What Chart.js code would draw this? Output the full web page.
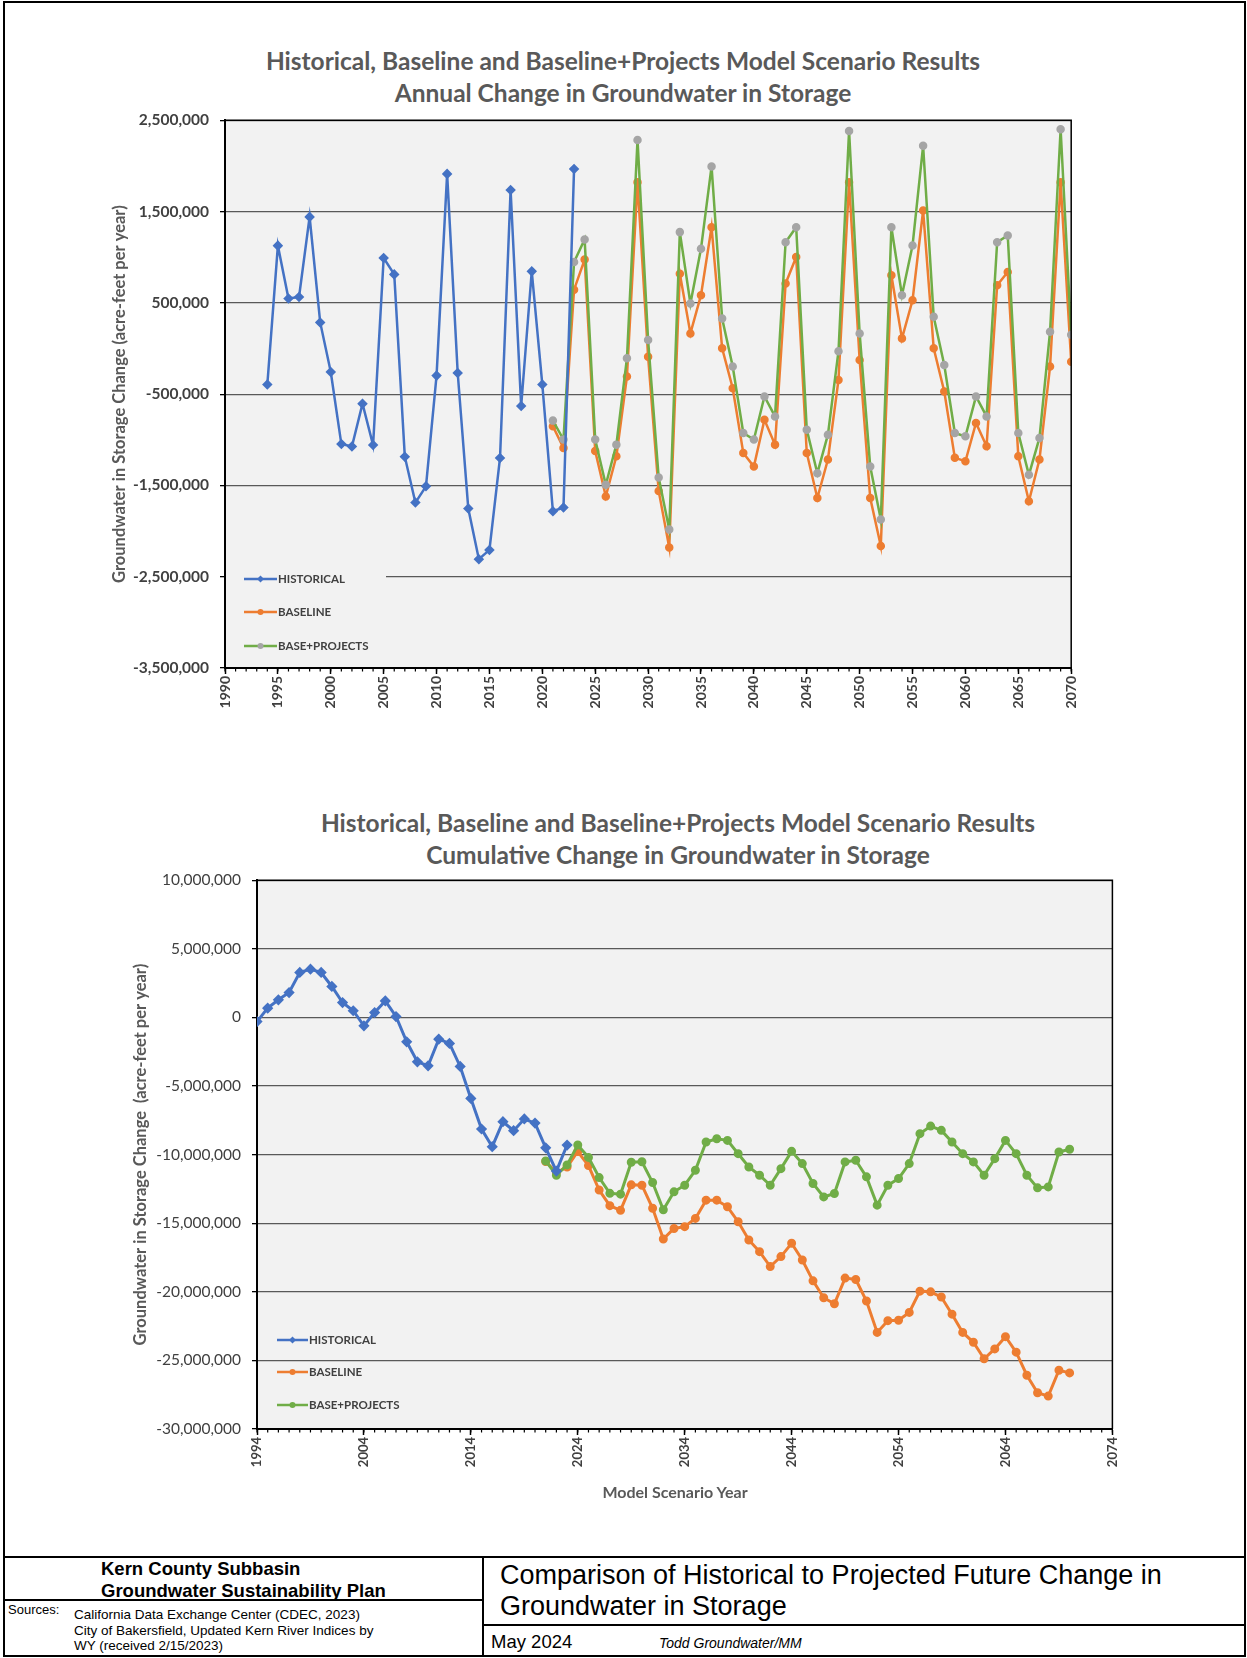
<!DOCTYPE html>
<html>
<head>
<meta charset="utf-8">
<script src="https://cdn.jsdelivr.net/npm/chart.js@4.4.1/dist/chart.umd.min.js"></script>
<style>
  body { margin: 0; background: #fff; width: 1247px; height: 1658px; position: relative; overflow: hidden; font-family: Lato, sans-serif; }
  .abs { position: absolute; }
  .ctitle { position: absolute; font-family: Lato, sans-serif; font-weight: bold; font-size: 24.5px; color: #595959; white-space: nowrap; transform: translate(-50%, -50%); }
  .box { position: absolute; }
  .blk { position: absolute; font-family: "Liberation Sans", Arial, sans-serif; color: #000; white-space: nowrap; }
</style>
</head>
<body>
<div class="box" style="left:3px;top:1px;width:1239px;height:1652px;border:2px solid #000;"></div>

<div class="ctitle" style="left:623px;top:60px;">Historical, Baseline and Baseline+Projects Model Scenario Results</div>
<div class="ctitle" style="left:623px;top:92px;">Annual Change in Groundwater in Storage</div>
<div class="abs" style="left:100px;top:100px;width:990px;height:618px;"><canvas id="annual"></canvas></div>

<div class="ctitle" style="left:678px;top:822px;">Historical, Baseline and Baseline+Projects Model Scenario Results</div>
<div class="ctitle" style="left:678px;top:854px;">Cumulative Change in Groundwater in Storage</div>
<div class="abs" style="left:120px;top:860px;width:1010px;height:644px;"><canvas id="cumulative"></canvas></div>
<div class="ctitle" style="left:675px;top:1491px;font-size:16px;">Model Scenario Year</div>

<!-- title block -->
<div class="box" style="left:3px;top:1556px;width:1241px;height:0;border-top:2px solid #000;"></div>
<div class="box" style="left:482px;top:1556px;width:0;height:100px;border-left:2px solid #000;"></div>
<div class="box" style="left:3px;top:1599px;width:480px;height:0;border-top:2px solid #000;"></div>
<div class="box" style="left:483px;top:1624px;width:761px;height:0;border-top:2px solid #000;"></div>

<div class="blk" style="left:101px;top:1558px;font-size:18.5px;font-weight:bold;">Kern County Subbasin</div>
<div class="blk" style="left:101px;top:1580px;font-size:18.5px;font-weight:bold;">Groundwater Sustainability Plan</div>
<div class="blk" style="left:8px;top:1602px;font-size:13px;">Sources:</div>
<div class="blk" style="left:74px;top:1607px;font-size:13.5px;line-height:15.5px;">California Data Exchange Center (CDEC, 2023)<br>City of Bakersfield, Updated Kern River Indices by<br>WY (received 2/15/2023)</div>
<div class="blk" style="left:500px;top:1560px;font-size:27px;line-height:31px;">Comparison of Historical to Projected Future Change in<br>Groundwater in Storage</div>
<div class="blk" style="left:491px;top:1631px;font-size:18.5px;">May 2024</div>
<div class="blk" style="left:659px;top:1635px;font-size:14px;font-style:italic;">Todd Groundwater/MM</div>

<script>
// ---- data (acre-feet) ----
const histYears = [1994, 1995, 1996, 1997, 1998, 1999, 2000, 2001, 2002, 2003,
  2004, 2005, 2006, 2007, 2008, 2009, 2010, 2011, 2012, 2013,
  2014, 2015, 2016, 2017, 2018, 2019, 2020, 2021, 2022, 2023];
const projYears = [2021, 2022, 2023, 2024, 2025, 2026, 2027, 2028, 2029, 2030,
  2031, 2032, 2033, 2034, 2035, 2036, 2037, 2038, 2039, 2040,
  2041, 2042, 2043, 2044, 2045, 2046, 2047, 2048, 2049, 2050,
  2051, 2052, 2053, 2054, 2055, 2056, 2057, 2058, 2059, 2060,
  2061, 2062, 2063, 2064, 2065, 2066, 2067, 2068, 2069, 2070];

const histAnnual = [-395000, 1127000, 547000, 565000, 1442000, 286000, -257000, -1047000, -1073000, -605000,
  -1058000, 992000, 812000, -1185000, -1688000, -1510000, -297000, 1913000, -268000, -1753000,
  -2308000, -2207000, -1199000, 1736000, -630000, 845000, -395000, -1783000, -1742000, 1967000];
const baseAnnual = [-852000, -1089000, 645000, 975000, -1124000, -1620000, -1180000, -307000, 1820000, -89000,
  -1560000, -2181000, 820000, 165000, 584000, 1329000, 2000, -435000, -1144000, -1293000,
  -780000, -1053000, 711000, 1002000, -1144000, -1638000, -1216000, -344000, 1820000, -125000,
  -1638000, -2163000, 802000, 111000, 529000, 1511000, 2000, -471000, -1198000, -1235000,
  -816000, -1071000, 693000, 838000, -1180000, -1674000, -1216000, -198000, 1820000, -146000];
const projAnnual = [-790000, -997000, 947000, 1195000, -997000, -1493000, -1053000, -107000, 2285000, 93000,
  -1413000, -1982000, 1275000, 493000, 1093000, 1995000, 329000, -198000, -925000, -998000,
  -525000, -744000, 1165000, 1329000, -889000, -1366000, -944000, -30000, 2384000, 165000,
  -1293000, -1873000, 1329000, 584000, 1129000, 2220000, 347000, -180000, -925000, -962000,
  -525000, -744000, 1165000, 1238000, -925000, -1384000, -980000, 184000, 2402000, 150000];

const histCum = [-300000, 680000, 1290000, 1820000, 3280000, 3520000, 3280000, 2260000, 1090000, 490000,
  -610000, 360000, 1210000, 70000, -1770000, -3230000, -3520000, -1580000, -1890000, -3570000,
  -5900000, -8130000, -9420000, -7600000, -8250000, -7400000, -7700000, -9500000, -11200000, -9300000];
const baseCum = [-10500000, -11300000, -10900000, -9770000, -10800000, -12580000, -13720000, -14060000, -12200000, -12230000,
  -13910000, -16150000, -15380000, -15250000, -14650000, -13320000, -13320000, -13800000, -14890000, -16220000,
  -17070000, -18160000, -17430000, -16460000, -17680000, -19200000, -20430000, -20870000, -19000000, -19100000,
  -20670000, -22960000, -22100000, -22070000, -21500000, -19950000, -20000000, -20380000, -21630000, -22960000,
  -23680000, -24880000, -24160000, -23270000, -24400000, -26080000, -27360000, -27600000, -25720000, -25910000];
const projCum = [-10460000, -11500000, -10750000, -9300000, -10200000, -11670000, -12820000, -12880000, -10550000, -10520000,
  -12030000, -14020000, -12710000, -12230000, -11140000, -9080000, -8840000, -8960000, -9930000, -10900000,
  -11500000, -12230000, -11020000, -9760000, -10650000, -12100000, -13080000, -12830000, -10530000, -10410000,
  -11620000, -13680000, -12230000, -11740000, -10650000, -8470000, -7920000, -8230000, -9080000, -9930000,
  -10530000, -11500000, -10290000, -8960000, -9930000, -11500000, -12420000, -12350000, -9810000, -9610000];

const seriesNames = ['HISTORICAL', 'BASELINE', 'BASE+PROJECTS'];
const annualTicks = { min: -3500000, max: 2500000, step: 1000000 };
const cumTicks = { min: -30000000, max: 10000000, step: 5000000 };
const annualYears = { min: 1990, max: 2070, step: 5 };
const cumYears = { min: 1994, max: 2074, step: 10 };

const BLUE = '#4472C4', ORANGE = '#ED7D31', GREEN = '#70AD47', GREY = '#A5A5A5';
Chart.defaults.font.family = 'Lato, sans-serif';
Chart.defaults.animation = false;

function pairs(xs, ys) {
  return xs.map((x, i) => ({ x: x, y: ys[i] }));
}

// plot background + top/right frame + minor year ticks
const plotFrame = {
  id: 'plotFrame',
  beforeDraw(chart) {
    const a = chart.chartArea, ctx = chart.ctx;
    ctx.save();
    ctx.fillStyle = '#f2f2f2';
    ctx.fillRect(a.left, a.top, a.right - a.left, a.bottom - a.top);
    ctx.restore();
  },
  afterDraw(chart) {
    const a = chart.chartArea, ctx = chart.ctx;
    ctx.save();
    ctx.strokeStyle = '#000';
    ctx.lineWidth = 1.5;
    ctx.beginPath();
    ctx.moveTo(a.left, a.top);
    ctx.lineTo(a.right, a.top);
    ctx.lineTo(a.right, a.bottom);
    ctx.stroke();
    const xs = chart.scales.x;
    ctx.lineWidth = 1.2;
    for (let yr = Math.ceil(xs.min); yr <= xs.max; yr++) {
      const px = xs.getPixelForValue(yr);
      ctx.beginPath();
      ctx.moveTo(px, a.bottom);
      ctx.lineTo(px, a.bottom + 3.5);
      ctx.stroke();
    }
    ctx.restore();
  }
};

// legend drawn inside the plot, lower left
function insideLegend(opts) {
  return {
    id: 'insideLegend',
    afterDatasetsDraw(chart) {
      const a = chart.chartArea, ctx = chart.ctx;
      ctx.save();
      if (opts.cover) {
        ctx.fillStyle = '#f2f2f2';
        ctx.fillRect(a.left + 1, a.bottom - opts.cover, opts.coverW, opts.cover - 1);
      }
      ctx.font = 'bold 11.5px Lato, sans-serif';
      ctx.textBaseline = 'middle';
      seriesNames.forEach((name, i) => {
        const ds = chart.data.datasets.find(d => d.label === name);
        const y = a.bottom - opts.rows[i];
        const x0 = a.left + opts.dx;
        ctx.strokeStyle = ds.borderColor;
        ctx.lineWidth = 2.5;
        ctx.beginPath();
        ctx.moveTo(x0, y);
        ctx.lineTo(x0 + opts.len, y);
        ctx.stroke();
        ctx.fillStyle = ds.pointBackgroundColor;
        const cx = x0 + opts.len / 2;
        ctx.beginPath();
        if (ds.pointStyle === 'rectRot') {
          ctx.moveTo(cx, y - 3.5); ctx.lineTo(cx + 3.5, y); ctx.lineTo(cx, y + 3.5); ctx.lineTo(cx - 3.5, y);
        } else {
          ctx.arc(cx, y, 3, 0, Math.PI * 2);
        }
        ctx.fill();
        ctx.fillStyle = '#404040';
        ctx.fillText(name, x0 + opts.len + 1, y + 0.5);
      });
      ctx.restore();
    }
  };
}

function makeChart(id, cfg) {
  return new Chart(document.getElementById(id), {
    type: 'line',
    data: {
      datasets: [
        { label: 'HISTORICAL', data: pairs(histYears, cfg.hist), borderColor: BLUE, backgroundColor: BLUE,
          pointBackgroundColor: BLUE, pointBorderColor: BLUE, pointStyle: 'rectRot', pointRadius: 3.5,
          borderWidth: cfg.lw, order: 1 },
        { label: 'BASE+PROJECTS', data: pairs(projYears, cfg.proj), borderColor: GREEN, backgroundColor: GREEN,
          pointBackgroundColor: cfg.projMarker, pointBorderColor: cfg.projMarker, pointStyle: 'circle', pointRadius: 3,
          borderWidth: cfg.lw, order: 2 },
        { label: 'BASELINE', data: pairs(projYears, cfg.base), borderColor: ORANGE, backgroundColor: ORANGE,
          pointBackgroundColor: ORANGE, pointBorderColor: ORANGE, pointStyle: 'circle', pointRadius: 3,
          borderWidth: cfg.lw, order: 3 }
      ]
    },
    options: {
      responsive: true,
      maintainAspectRatio: false,
      layout: { padding: { left: 0, right: 15, top: cfg.padTop, bottom: 0 } },
      plugins: { legend: { display: false }, tooltip: { enabled: false } },
      scales: {
        x: {
          type: 'linear',
          min: cfg.xr.min, max: cfg.xr.max,
          afterFit: s => { s.height = cfg.xh; },
          ticks: {
            stepSize: cfg.xr.step, minRotation: 90, maxRotation: 90, padding: 2,
            color: '#404040', font: { size: cfg.xFont, weight: 'bold' },
            callback: v => String(v)
          },
          grid: { drawOnChartArea: false, tickLength: 6, tickColor: '#000', tickWidth: 1.5 },
          border: { color: '#000', width: 2 }
        },
        y: {
          min: cfg.yr.min, max: cfg.yr.max,
          afterFit: s => { s.width = cfg.yw; },
          ticks: {
            stepSize: cfg.yr.step, padding: 11, color: '#404040',
            font: { size: cfg.yFont, weight: cfg.yBold ? 'bold' : 'normal' },
            callback: v => v.toLocaleString('en-US')
          },
          grid: { color: '#595959', lineWidth: 1.3, tickLength: 5, tickColor: '#000', tickWidth: 1.3 },
          border: { color: '#000', width: 2 },
          title: { display: true, text: cfg.yTitle, color: '#595959',
            font: { size: 16.5, weight: 'bold' }, padding: { top: cfg.yTitlePad, bottom: 0 } }
        }
      }
    },
    plugins: [plotFrame, insideLegend(cfg.legend)]
  });
}

makeChart('annual', {
  hist: histAnnual, base: baseAnnual, proj: projAnnual, projMarker: GREY, lw: 2.5,
  xr: annualYears, yr: annualTicks, xh: 50, yw: 125, padTop: 16, xFont: 14, yFont: 15.5, yBold: true,
  yTitle: 'Groundwater in Storage Change (acre-feet per year)', yTitlePad: 10,
  legend: { dx: 19, len: 33, rows: [89, 56, 22], cover: 108, coverW: 160 }
});

makeChart('cumulative', {
  hist: histCum, base: baseCum, proj: projCum, projMarker: GREEN, lw: 3,
  xr: cumYears, yr: cumTicks, xh: 75, yw: 137, padTop: 17, xFont: 13, yFont: 15.5, yBold: false,
  yTitle: 'Groundwater in Storage Change  (acre-feet per year)', yTitlePad: 10.8,
  legend: { dx: 20, len: 31, rows: [89, 57, 24], cover: 0 }
});
</script>
</body>
</html>
